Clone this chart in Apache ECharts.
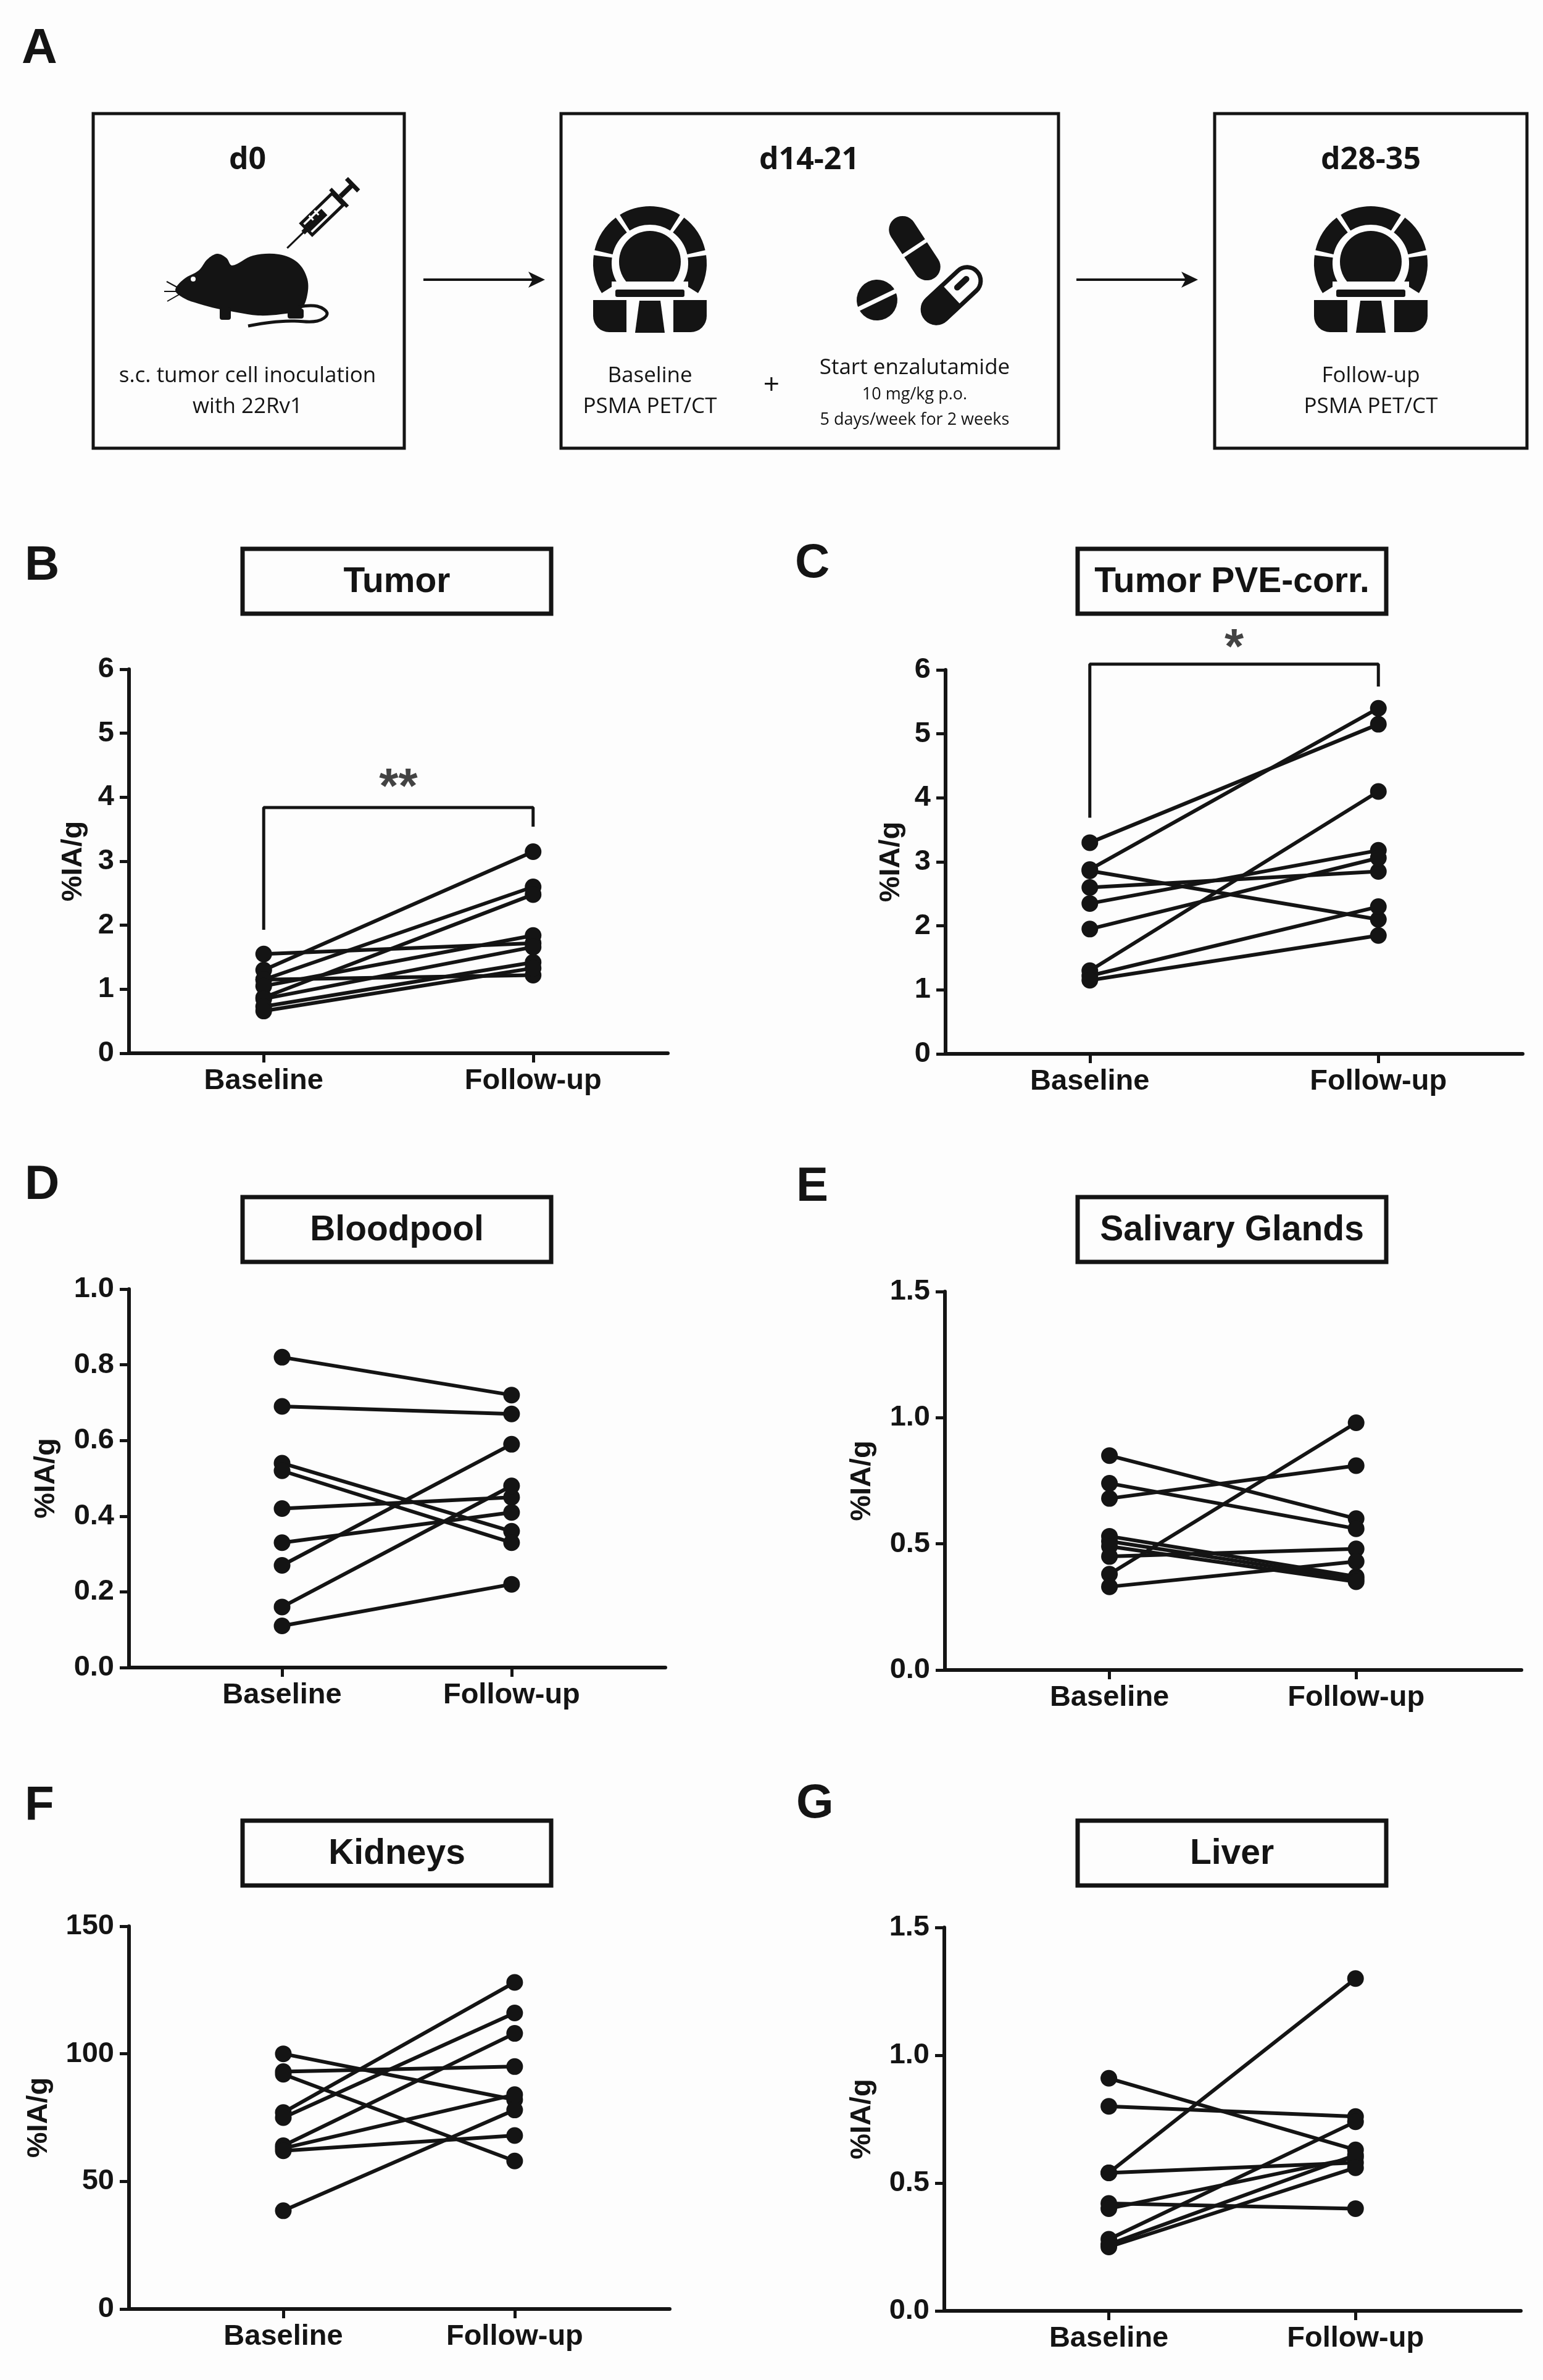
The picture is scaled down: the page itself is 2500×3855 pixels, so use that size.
<!DOCTYPE html>
<html>
<head>
<meta charset="utf-8">
<title>PSMA PET/CT under enzalutamide</title>
<script src="https://cdn.jsdelivr.net/npm/echarts@6/dist/echarts.min.js"></script>
<style>
html, body { margin: 0; padding: 0; background: #fdfdfd; }
#chart_main { width: 2500px; height: 3855px; }
</style>
</head>
<body>
<div id="chart_main"></div>
<script>
// ---- data (%IA/g, one entry per mouse) ----
var groups = ['Baseline', 'Follow-up'];

var tumorBase   = [1.55, 1.30, 1.15, 0.87, 1.15, 1.05, 0.85, 0.73, 0.66];
var tumorFollow = [1.72, 3.15, 2.60, 2.48, 1.22, 1.84, 1.66, 1.42, 1.33];

var pveBase   = [3.30, 2.88, 2.86, 2.60, 2.35, 1.95, 1.30, 1.22, 1.15];
var pveFollow = [5.15, 5.40, 2.10, 2.85, 3.18, 3.06, 4.10, 2.30, 1.85];

var bloodBase   = [0.82, 0.69, 0.54, 0.52, 0.42, 0.33, 0.27, 0.16, 0.11];
var bloodFollow = [0.72, 0.67, 0.36, 0.33, 0.45, 0.41, 0.59, 0.48, 0.22];

var salivaryBase   = [0.85, 0.74, 0.68, 0.53, 0.51, 0.49, 0.45, 0.38, 0.33];
var salivaryFollow = [0.60, 0.56, 0.81, 0.37, 0.36, 0.35, 0.48, 0.98, 0.43];

var kidneyBase   = [100, 93, 92, 77, 75, 64, 63, 62, 38.5];
var kidneyFollow = [82, 95, 58, 128, 116, 108, 84, 68, 78];

var liverBase   = [0.91, 0.80, 0.54, 0.54, 0.42, 0.40, 0.28, 0.26, 0.25];
var liverFollow = [0.63, 0.76, 1.30, 0.58, 0.40, 0.60, 0.74, 0.61, 0.56];

var panelTitles  = ['Tumor', 'Tumor PVE-corr.', 'Bloodpool', 'Salivary Glands', 'Kidneys', 'Liver'];
var panelLetters = ['B', 'C', 'D', 'E', 'F', 'G'];
var yMaxList     = [6, 6, 1.0, 1.5, 150, 1.5];
var yStepList    = [1, 1, 0.2, 0.5, 50, 0.5];
var yDigitList   = [0, 0, 1, 1, 0, 1];

// significance brackets: [left end, top, right end], then star text and height
var tumorBracket = [1.93, 3.84, 3.54];
var tumorStars = ['**', 4.28];
var pveBracket = [3.69, 6.09, 5.74];
var pveStars = ['*', 6.47];

// ---- layout / style ----
var INK = '#141414';
var PAPER = '#fdfdfd';
var AX_FONT = '"Liberation Sans", Arial, sans-serif';
var DG_FONT = '"Open Sans", "Noto Sans", sans-serif';

var gridBoxes = [
    { left: 209,  top: 1084, width: 873, height: 622 },
    { left: 1532, top: 1085, width: 935, height: 622 },
    { left: 209,  top: 2088, width: 869, height: 613 },
    { left: 1531, top: 2092, width: 934, height: 613 },
    { left: 209,  top: 3120, width: 876, height: 620 },
    { left: 1530, top: 3122, width: 934, height: 621 }
];
var xRanges = [[-0.5, 1.5], [-0.5, 1.5], [-0.667, 1.67], [-0.667, 1.67], [-0.667, 1.67], [-0.667, 1.67]];
var nameGaps = [66, 64, 110, 110, 122, 109];
var titleBoxes = [
    [393, 889], [1746, 889], [393, 1939], [1746, 1939], [393, 2949], [1746, 2949]
];
var letterPos = [[40, 917], [1288, 913], [40, 1920], [1290, 1923], [40, 2926], [1290, 2922]];

window.FIG = {
    chart: null,

    init: function() {
        FIG.chart = echarts.init(document.getElementById('chart_main'), null, { renderer: 'canvas' });
        FIG.chart.setOption(FIG.buildOption());
    },

    text: function(x, y, s, font, align) {
        return {
            type: 'text', x: x, y: y, silent: true,
            style: {
                text: s, font: font, fill: INK,
                align: align || 'center', verticalAlign: 'middle',
                textAlign: align || 'center', textVerticalAlign: 'middle'
            }
        };
    },

    box: function(x, y, w, h, lw) {
        return {
            type: 'rect', silent: true,
            shape: { x: x, y: y, width: w, height: h },
            style: { fill: 'none', stroke: INK, lineWidth: lw }
        };
    },

    arrow: function(x1, x2, y) {
        return [
            { type: 'line', silent: true, shape: { x1: x1, y1: y, x2: x2 - 10, y2: y }, style: { stroke: INK, lineWidth: 4 } },
            { type: 'polygon', silent: true, shape: { points: [[x2, y], [x2 - 27, y - 13], [x2 - 20, y], [x2 - 27, y + 13]] }, style: { fill: INK } }
        ];
    },

    scanner: function(cx, cy) {
        var segs = [[148, 188], [193, 233], [238, 302], [307, 347], [352, 392]];
        var kids = [];
        segs.forEach(function(s) {
            kids.push({
                type: 'sector',
                shape: { cx: 0, cy: 0, r: 92, r0: 62, startAngle: s[0] * Math.PI / 180, endAngle: s[1] * Math.PI / 180, clockwise: true },
                style: { fill: INK }
            });
        });
        kids.push({ type: 'circle', shape: { cx: 0, cy: -2, r: 50 }, style: { fill: INK } });
        kids.push({ type: 'rect', shape: { x: -62, y: 30, width: 124, height: 13 }, style: { fill: PAPER } });
        kids.push({ type: 'rect', shape: { x: -56, y: 43, width: 112, height: 12, r: 3 }, style: { fill: INK } });
        kids.push({ type: 'rect', shape: { x: -92, y: 60, width: 54, height: 52, r: [0, 0, 0, 26] }, style: { fill: INK } });
        kids.push({ type: 'rect', shape: { x: 38, y: 60, width: 54, height: 52, r: [0, 0, 26, 0] }, style: { fill: INK } });
        kids.push({ type: 'polygon', shape: { points: [[-17, 61], [17, 61], [24, 113], [-24, 113]] }, style: { fill: INK } });
        return { type: 'group', x: cx, y: cy, silent: true, children: kids };
    },

    pills: function() {
        var out = [];
        // upper capsule, dark with a white seam
        out.push({
            type: 'group', x: 1482, y: 402, rotation: -0.99, silent: true,
            children: [
                { type: 'rect', shape: { x: -58, y: -22, width: 116, height: 44, r: 22 }, style: { fill: INK } },
                { type: 'line', shape: { x1: 0, y1: -24, x2: 0, y2: 24 }, style: { stroke: PAPER, lineWidth: 6 } }
            ]
        });
        // round tablet with score line
        out.push({
            type: 'group', x: 1421, y: 486, rotation: 0.45, silent: true,
            children: [
                { type: 'circle', shape: { cx: 0, cy: 0, r: 33 }, style: { fill: INK } },
                { type: 'line', shape: { x1: -36, y1: 0, x2: 36, y2: 0 }, style: { stroke: PAPER, lineWidth: 7 } }
            ]
        });
        // half-open capsule
        out.push({
            type: 'group', x: 1542, y: 478, rotation: 0.75, silent: true,
            children: [
                { type: 'rect', shape: { x: -56, y: -22, width: 112, height: 44, r: 22 }, style: { fill: PAPER, stroke: INK, lineWidth: 7 } },
                { type: 'rect', shape: { x: -59, y: -25, width: 59, height: 50, r: [25, 0, 0, 25] }, style: { fill: INK } },
                { type: 'rect', shape: { x: 10, y: -8, width: 30, height: 10, r: 5 }, style: { fill: INK } }
            ]
        });
        return out;
    },

    mouse: function() {
        var out = [];
        out.push({
            type: 'polygon', silent: true,
            shape: {
                smooth: 0.35,
                points: [[284, 470], [298, 452], [322, 438], [336, 420], [352, 411], [367, 418], [376, 430],
                         [410, 414], [452, 412], [482, 425], [498, 452], [497, 482], [486, 502],
                         [455, 509], [418, 511], [384, 506], [352, 500], [322, 492], [298, 483]]
            },
            style: { fill: INK }
        });
        out.push({ type: 'rect', silent: true, shape: { x: 466, y: 500, width: 26, height: 16, r: 4 }, style: { fill: INK } });
        out.push({ type: 'rect', silent: true, shape: { x: 356, y: 498, width: 18, height: 20, r: 4 }, style: { fill: INK } });
        out.push({
            type: 'polyline', silent: true,
            shape: { smooth: 0.4, points: [[484, 497], [514, 496], [530, 508], [514, 520], [475, 520], [440, 522], [402, 528]] },
            style: { stroke: INK, lineWidth: 5, fill: null }
        });
        out.push({ type: 'circle', silent: true, shape: { cx: 313, cy: 452, r: 4 }, style: { fill: PAPER } });
        [[[292, 468], [270, 456]], [[291, 472], [266, 472]], [[292, 476], [271, 488]]].forEach(function(w) {
            out.push({ type: 'line', silent: true, shape: { x1: w[0][0], y1: w[0][1], x2: w[1][0], y2: w[1][1] }, style: { stroke: INK, lineWidth: 2 } });
        });
        return out;
    },

    syringe: function() {
        return {
            type: 'group', x: 527, y: 342, rotation: 0.77, silent: true,
            children: [
                { type: 'line', shape: { x1: -86, y1: 0, x2: -48, y2: 0 }, style: { stroke: INK, lineWidth: 3 } },
                { type: 'rect', shape: { x: -50, y: -4, width: 8, height: 8 }, style: { fill: INK } },
                { type: 'rect', shape: { x: -42, y: -13, width: 70, height: 26 }, style: { fill: PAPER, stroke: INK, lineWidth: 5 } },
                { type: 'rect', shape: { x: -40, y: -7, width: 38, height: 14 }, style: { fill: INK } },
                { type: 'line', shape: { x1: -24, y1: -13, x2: -24, y2: -3 }, style: { stroke: PAPER, lineWidth: 3 } },
                { type: 'line', shape: { x1: -12, y1: -13, x2: -12, y2: -3 }, style: { stroke: PAPER, lineWidth: 3 } },
                { type: 'rect', shape: { x: 28, y: -20, width: 6, height: 40 }, style: { fill: INK } },
                { type: 'rect', shape: { x: 34, y: -4, width: 26, height: 8 }, style: { fill: INK } },
                { type: 'rect', shape: { x: 58, y: -14, width: 7, height: 28 }, style: { fill: INK } }
            ]
        };
    },

    graphics: function() {
        var g = [];
        var bigLetter = 'bold 80px ' + AX_FONT;
        g.push(FIG.text(35, 80, 'A', bigLetter, 'left'));

        // panel A: timeline boxes
        g.push(FIG.box(151, 184, 504, 542, 5));
        g.push(FIG.box(909, 184, 806, 542, 5));
        g.push(FIG.box(1968, 184, 506, 542, 5));
        g = g.concat(FIG.arrow(686, 883, 453));
        g = g.concat(FIG.arrow(1744, 1941, 453));

        var dayFont = 'bold 50px ' + DG_FONT;
        var capFont = '35px ' + DG_FONT;
        var smallFont = '27px ' + DG_FONT;
        g.push(FIG.text(401, 260, 'd0', dayFont));
        g.push(FIG.text(1311, 260, 'd14-21', dayFont));
        g.push(FIG.text(2221, 260, 'd28-35', dayFont));

        g = g.concat(FIG.mouse());
        g.push(FIG.syringe());
        g.push(FIG.scanner(1053, 426));
        g.push(FIG.scanner(2221, 426));
        g = g.concat(FIG.pills());

        g.push(FIG.text(401, 609, 's.c. tumor cell inoculation', capFont));
        g.push(FIG.text(401, 659, 'with 22Rv1', capFont));
        g.push(FIG.text(1053, 609, 'Baseline', capFont));
        g.push(FIG.text(1053, 659, 'PSMA PET/CT', capFont));
        g.push(FIG.text(1250, 625, '+', '46px ' + DG_FONT));
        g.push(FIG.text(1482, 596, 'Start enzalutamide', capFont));
        g.push(FIG.text(1482, 639, '10 mg/kg p.o.', smallFont));
        g.push(FIG.text(1482, 680, '5 days/week for 2 weeks', smallFont));
        g.push(FIG.text(2221, 609, 'Follow-up', capFont));
        g.push(FIG.text(2221, 659, 'PSMA PET/CT', capFont));

        // panel letters and title boxes for the plots
        for (var i = 0; i < 6; i++) {
            g.push(FIG.text(letterPos[i][0], letterPos[i][1], panelLetters[i], 'bold 78px ' + AX_FONT, 'left'));
            var tb = titleBoxes[i];
            g.push(FIG.box(tb[0], tb[1], 500, 105, 7));
            g.push(FIG.text(tb[0] + 250, tb[1] + 54, panelTitles[i], 'bold 57px ' + AX_FONT));
        }
        return g;
    },

    pairSeries: function(idx, base, follow) {
        var out = [];
        for (var i = 0; i < base.length; i++) {
            out.push({
                type: 'line', xAxisIndex: idx, yAxisIndex: idx,
                data: [[0, base[i]], [1, follow[i]]],
                symbol: 'circle', symbolSize: 27,
                lineStyle: { color: INK, width: 6 },
                itemStyle: { color: INK },
                silent: true, animation: false, z: 3
            });
        }
        return out;
    },

    bracketSeries: function(idx, br, stars) {
        return [{
            type: 'line', xAxisIndex: idx, yAxisIndex: idx,
            data: [[0, br[0]], [0, br[1]], [1, br[1]], [1, br[2]]],
            symbol: 'none', clip: false, silent: true, animation: false,
            lineStyle: { color: INK, width: 5 }
        }, {
            type: 'scatter', xAxisIndex: idx, yAxisIndex: idx,
            data: [[0.5, stars[1]]],
            symbolSize: 1, clip: false, silent: true, animation: false,
            itemStyle: { color: 'rgba(0,0,0,0)' },
            label: {
                show: true, position: 'inside', formatter: stars[0], offset: [0, 16],
                fontSize: 80, fontWeight: 'bold', fontFamily: AX_FONT, color: INK
            }
        }];
    },

    buildOption: function() {
        var grids = [], xAxes = [], yAxes = [], series = [];
        var sets = [
            [tumorBase, tumorFollow], [pveBase, pveFollow], [bloodBase, bloodFollow],
            [salivaryBase, salivaryFollow], [kidneyBase, kidneyFollow], [liverBase, liverFollow]
        ];
        for (var i = 0; i < 6; i++) {
            grids.push(gridBoxes[i]);
            xAxes.push({
                type: 'value', gridIndex: i, min: xRanges[i][0], max: xRanges[i][1],
                axisLine: { show: true, onZero: false, lineStyle: { color: INK, width: 6 } },
                axisTick: { show: true, customValues: [0, 1], length: 15, lineStyle: { color: INK, width: 5 } },
                axisLabel: {
                    show: true, customValues: [0, 1], margin: 22,
                    fontSize: 47, fontWeight: 'bold', fontFamily: AX_FONT, color: INK,
                    formatter: function(v) { return groups[Math.round(v)]; }
                },
                splitLine: { show: false }
            });
            (function(d) {
                yAxes.push({
                    type: 'value', gridIndex: i, min: 0, max: yMaxList[i], interval: yStepList[i],
                    name: '%IA/g', nameLocation: 'middle', nameRotate: 90, nameGap: nameGaps[i],
                    nameTextStyle: { fontSize: 47, fontWeight: 'bold', fontFamily: AX_FONT, color: INK },
                    axisLine: { show: true, onZero: false, lineStyle: { color: INK, width: 6 } },
                    axisTick: { show: true, length: 15, lineStyle: { color: INK, width: 5 } },
                    axisLabel: {
                        margin: 24, fontSize: 47, fontWeight: 'bold', fontFamily: AX_FONT, color: INK,
                        formatter: function(v) { return v.toFixed(d); }
                    },
                    splitLine: { show: false }
                });
            })(yDigitList[i]);
            series = series.concat(FIG.pairSeries(i, sets[i][0], sets[i][1]));
        }
        series = series.concat(FIG.bracketSeries(0, tumorBracket, tumorStars));
        series = series.concat(FIG.bracketSeries(1, pveBracket, pveStars));

        return {
            backgroundColor: PAPER,
            animation: false,
            grid: grids,
            xAxis: xAxes,
            yAxis: yAxes,
            series: series,
            graphic: { elements: FIG.graphics() }
        };
    }
};

FIG.init();
</script>
</body>
</html>
